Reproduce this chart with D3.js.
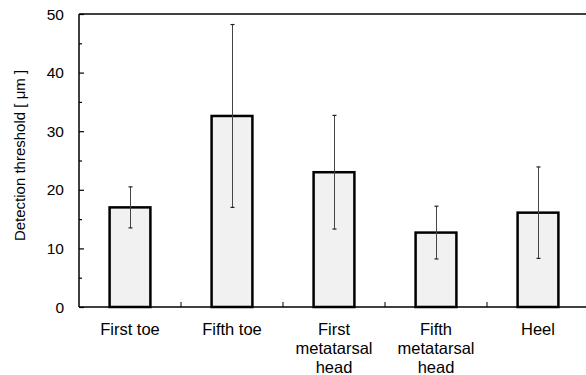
<!DOCTYPE html>
<html>
<head>
<meta charset="utf-8">
<script src="https://cdn.jsdelivr.net/npm/d3@7"></script>
<style>
  body { margin: 0; background: #fff; }
  text { font-family: "Liberation Sans", Arial, sans-serif; fill: #000; }
</style>
</head>
<body>
<div id="chart"></div>
<script>
// Data
var sites = ["First toe", "Fifth toe", "First metatarsal head", "Fifth metatarsal head", "Heel"];
var siteLines = [["First toe"], ["Fifth toe"], ["First", "metatarsal", "head"], ["Fifth", "metatarsal", "head"], ["Heel"]];
var means = [17.0, 32.6, 23.0, 12.7, 16.1];
var sds = [3.5, 15.6, 9.7, 4.5, 7.8];
var majorTicks = [0, 10, 20, 30, 40, 50];
var minorTicks = [5, 15, 25, 35, 45];

var width = 586;
var height = 375;

// plot area
var plotLeft = 79;
var plotRight = 589;
var plotTop = 14;
var plotBottom = 307;

var svg = d3.select("#chart")
  .append("svg")
  .attr("width", width)
  .attr("height", height);

var xScale = d3.scaleBand()
  .domain(sites)
  .range([plotLeft, plotRight])
  .padding(0);

var yScale = d3.scaleLinear()
  .domain([0, 50])
  .range([plotBottom, plotTop]);

var barWidth = xScale.bandwidth() * 0.4;

// bars
svg.selectAll("rect.bar")
  .data(sites)
  .enter()
  .append("rect")
  .attr("class", "bar")
  .attr("x", function(d) { return xScale(d) + (xScale.bandwidth() - barWidth) / 2; })
  .attr("y", function(d, i) { return yScale(means[i]); })
  .attr("width", barWidth)
  .attr("height", function(d, i) { return yScale(0) - yScale(means[i]); })
  .attr("fill", "#f1f1f1")
  .attr("stroke", "#000")
  .attr("stroke-width", 2.5);

// error bars
var errG = svg.append("g").attr("class", "errors");
sites.forEach(function(s, i) {
  var cx = Math.round(xScale(s) + xScale.bandwidth() / 2) + 0.5;
  var hi = yScale(means[i] + sds[i]);
  var lo = yScale(means[i] - sds[i]);
  errG.append("line")
    .attr("x1", cx).attr("x2", cx)
    .attr("y1", hi).attr("y2", lo)
    .attr("stroke", "#444")
    .attr("stroke-width", 1);
  [hi, lo].forEach(function(y) {
    errG.append("line")
      .attr("x1", cx - 2).attr("x2", cx + 2)
      .attr("y1", y).attr("y2", y)
      .attr("stroke", "#222")
      .attr("stroke-width", 1.2);
  });
});

// y axis (ticks point inward)
var yAxis = d3.axisRight(yScale)
  .tickValues(majorTicks)
  .tickSize(5)
  .tickFormat("");
svg.append("g")
  .attr("class", "yAxis")
  .attr("transform", "translate(" + plotLeft + ",0)")
  .call(yAxis)
  .call(function(g) {
    g.select(".domain").remove();
    g.selectAll("line").attr("stroke", "#000").attr("stroke-width", 1.2);
  });

var yMinor = d3.axisRight(yScale)
  .tickValues(minorTicks)
  .tickSize(3)
  .tickFormat("");
svg.append("g")
  .attr("transform", "translate(" + plotLeft + ",0)")
  .call(yMinor)
  .call(function(g) {
    g.select(".domain").remove();
    g.selectAll("line").attr("stroke", "#000").attr("stroke-width", 1.2);
  });

// y tick labels
svg.selectAll("text.yLabel")
  .data(majorTicks)
  .enter()
  .append("text")
  .attr("class", "yLabel")
  .attr("x", plotLeft - 15)
  .attr("y", function(d) { return yScale(d); })
  .attr("dy", "0.36em")
  .attr("text-anchor", "end")
  .attr("font-size", 15.5)
  .text(function(d) { return d; });

// x axis ticks at band boundaries, pointing up
var xBounds = sites.map(function(s) { return xScale(s); }).concat([xScale.range()[1]]);
svg.selectAll("line.xTick")
  .data(xBounds.slice(1))
  .enter()
  .append("line")
  .attr("class", "xTick")
  .attr("x1", function(d) { return d; })
  .attr("x2", function(d) { return d; })
  .attr("y1", plotBottom)
  .attr("y2", plotBottom - 5)
  .attr("stroke", "#000")
  .attr("stroke-width", 1);

// frame lines: left, bottom, top
svg.append("line")
  .attr("x1", plotLeft).attr("x2", plotLeft)
  .attr("y1", plotTop).attr("y2", plotBottom)
  .attr("stroke", "#000").attr("stroke-width", 1.5);
svg.append("line")
  .attr("x1", plotLeft).attr("x2", width)
  .attr("y1", plotBottom).attr("y2", plotBottom)
  .attr("stroke", "#000").attr("stroke-width", 1.5);
svg.append("line")
  .attr("x1", plotLeft).attr("x2", width)
  .attr("y1", plotTop).attr("y2", plotTop)
  .attr("stroke", "#000").attr("stroke-width", 1.5);

// category labels
var xLabels = svg.selectAll("text.xLabel")
  .data(sites)
  .enter()
  .append("text")
  .attr("class", "xLabel")
  .attr("text-anchor", "middle")
  .attr("font-size", 16.5)
  .attr("transform", function(d) {
    return "translate(" + (xScale(d) + xScale.bandwidth() / 2) + "," + (plotBottom + 28) + ")";
  });

xLabels.each(function(d, i) {
  var t = d3.select(this);
  siteLines[i].forEach(function(line, k) {
    t.append("tspan")
      .attr("x", 0)
      .attr("y", k * 19)
      .text(line);
  });
});

// y axis title
svg.append("text")
  .attr("transform", "translate(25," + ((plotTop + plotBottom) / 2 - 5) + ")rotate(-90)")
  .attr("text-anchor", "middle")
  .attr("font-size", 15)
  .text("Detection threshold [ μm ]");
</script>
</body>
</html>
